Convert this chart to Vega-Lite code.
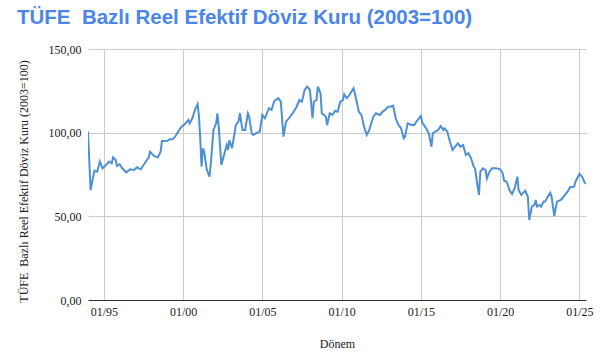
{
  "$schema": "https://vega.github.io/schema/vega-lite/v6.json",
  "width": 498,
  "height": 251,
  "autosize": "none",
  "padding": {"left": 88, "top": 49, "right": 16, "bottom": 63},
  "background": "white",
  "title": {
    "text": "TÜFE\u00a0 Bazlı Reel Efektif Döviz Kuru (2003=100)",
    "anchor": "start",
    "frame": "group",
    "dx": -71,
    "offset": 15,
    "font": "Liberation Sans",
    "fontSize": 20.5,
    "fontWeight": "bold",
    "color": "#4a86e8"
  },
  "config": {"view": {"stroke": null}},
  "data": {
    "values": [
      {"d": "1994-01", "v": 100.6}, {"d": "1994-03", "v": 65.7}, {"d": "1994-05", "v": 73.7}, {"d": "1994-06", "v": 77.3},
      {"d": "1994-08", "v": 76.7}, {"d": "1994-10", "v": 82.7}, {"d": "1994-12", "v": 78.7}, {"d": "1995-02", "v": 80.1},
      {"d": "1995-05", "v": 82.7}, {"d": "1995-07", "v": 81.7}, {"d": "1995-08", "v": 85.3}, {"d": "1995-10", "v": 83.7},
      {"d": "1995-11", "v": 80.1}, {"d": "1996-01", "v": 81.1}, {"d": "1996-03", "v": 78.7}, {"d": "1996-06", "v": 76.3},
      {"d": "1996-09", "v": 78.1}, {"d": "1996-12", "v": 77.7}, {"d": "1997-02", "v": 79.3}, {"d": "1997-05", "v": 78.1},
      {"d": "1997-08", "v": 81.7}, {"d": "1997-11", "v": 85.3}, {"d": "1997-12", "v": 88.6}, {"d": "1998-03", "v": 86.1},
      {"d": "1998-06", "v": 85.3}, {"d": "1998-08", "v": 88.6}, {"d": "1998-09", "v": 95.0}, {"d": "1999-01", "v": 95.1},
      {"d": "1999-03", "v": 96.0}, {"d": "1999-05", "v": 96.0}, {"d": "1999-07", "v": 97.6}, {"d": "1999-10", "v": 101.6},
      {"d": "1999-12", "v": 103.6}, {"d": "2000-03", "v": 105.6}, {"d": "2000-05", "v": 107.6}, {"d": "2000-06", "v": 105.6},
      {"d": "2000-08", "v": 108.6}, {"d": "2000-10", "v": 113.6}, {"d": "2000-12", "v": 117.0}, {"d": "2001-01", "v": 109.6},
      {"d": "2001-02", "v": 95.6}, {"d": "2001-03", "v": 79.7}, {"d": "2001-04", "v": 90.7}, {"d": "2001-05", "v": 88.6},
      {"d": "2001-07", "v": 77.7}, {"d": "2001-09", "v": 73.7}, {"d": "2001-10", "v": 81.7}, {"d": "2001-12", "v": 101.6},
      {"d": "2002-02", "v": 105.6}, {"d": "2002-03", "v": 111.6}, {"d": "2002-04", "v": 103.6}, {"d": "2002-06", "v": 80.7},
      {"d": "2002-08", "v": 86.7}, {"d": "2002-10", "v": 92.6}, {"d": "2002-11", "v": 89.7}, {"d": "2002-12", "v": 95.6},
      {"d": "2003-02", "v": 90.7}, {"d": "2003-05", "v": 104.6}, {"d": "2003-07", "v": 106.6}, {"d": "2003-08", "v": 111.6},
      {"d": "2003-10", "v": 101.6}, {"d": "2003-12", "v": 101.6}, {"d": "2004-02", "v": 111.6}, {"d": "2004-03", "v": 109.6},
      {"d": "2004-05", "v": 99.6}, {"d": "2004-06", "v": 98.6}, {"d": "2004-08", "v": 99.6}, {"d": "2004-11", "v": 100.6},
      {"d": "2005-01", "v": 110.6}, {"d": "2005-03", "v": 108.6}, {"d": "2005-06", "v": 114.6}, {"d": "2005-08", "v": 113.6},
      {"d": "2005-10", "v": 118.9}, {"d": "2006-01", "v": 120.6}, {"d": "2006-03", "v": 118.5}, {"d": "2006-05", "v": 97.6},
      {"d": "2006-07", "v": 106.6}, {"d": "2006-09", "v": 108.6}, {"d": "2006-12", "v": 111.6}, {"d": "2007-03", "v": 115.5},
      {"d": "2007-05", "v": 119.5}, {"d": "2007-07", "v": 118.5}, {"d": "2007-09", "v": 125.5}, {"d": "2007-11", "v": 127.5},
      {"d": "2008-01", "v": 125.5}, {"d": "2008-03", "v": 108.6}, {"d": "2008-04", "v": 118.5}, {"d": "2008-06", "v": 119.5},
      {"d": "2008-07", "v": 127.5}, {"d": "2008-09", "v": 123.5}, {"d": "2008-10", "v": 111.6}, {"d": "2009-01", "v": 109.6},
      {"d": "2009-02", "v": 104.6}, {"d": "2009-04", "v": 111.6}, {"d": "2009-06", "v": 110.6}, {"d": "2009-08", "v": 113.0},
      {"d": "2009-10", "v": 112.5}, {"d": "2009-12", "v": 118.5}, {"d": "2010-02", "v": 119.5}, {"d": "2010-03", "v": 122.9},
      {"d": "2010-05", "v": 120.6}, {"d": "2010-07", "v": 122.5}, {"d": "2010-10", "v": 126.5}, {"d": "2010-11", "v": 123.5},
      {"d": "2011-02", "v": 112.5}, {"d": "2011-04", "v": 110.6}, {"d": "2011-06", "v": 103.6}, {"d": "2011-08", "v": 98.6},
      {"d": "2011-10", "v": 101.6}, {"d": "2011-11", "v": 104.6}, {"d": "2012-01", "v": 109.6}, {"d": "2012-03", "v": 111.6},
      {"d": "2012-06", "v": 110.6}, {"d": "2012-08", "v": 112.5}, {"d": "2012-10", "v": 113.6}, {"d": "2012-12", "v": 115.5},
      {"d": "2013-02", "v": 115.5}, {"d": "2013-04", "v": 116.1}, {"d": "2013-06", "v": 108.6}, {"d": "2013-08", "v": 104.6},
      {"d": "2013-10", "v": 102.6}, {"d": "2013-12", "v": 96.6}, {"d": "2014-01", "v": 97.6}, {"d": "2014-03", "v": 105.6},
      {"d": "2014-06", "v": 104.6}, {"d": "2014-08", "v": 104.6}, {"d": "2014-10", "v": 107.0}, {"d": "2015-01", "v": 110.0},
      {"d": "2015-02", "v": 106.0}, {"d": "2015-05", "v": 102.6}, {"d": "2015-07", "v": 99.6}, {"d": "2015-09", "v": 91.6},
      {"d": "2015-10", "v": 99.6}, {"d": "2015-12", "v": 100.6}, {"d": "2016-02", "v": 101.6}, {"d": "2016-04", "v": 104.0},
      {"d": "2016-06", "v": 101.6}, {"d": "2016-07", "v": 102.6}, {"d": "2016-09", "v": 100.6}, {"d": "2016-11", "v": 94.6},
      {"d": "2017-01", "v": 89.7}, {"d": "2017-03", "v": 91.6}, {"d": "2017-05", "v": 93.6}, {"d": "2017-07", "v": 91.6},
      {"d": "2017-09", "v": 92.6}, {"d": "2017-11", "v": 86.7}, {"d": "2018-01", "v": 87.7}, {"d": "2018-03", "v": 84.7},
      {"d": "2018-05", "v": 79.7}, {"d": "2018-06", "v": 78.7}, {"d": "2018-08", "v": 67.7}, {"d": "2018-09", "v": 62.8},
      {"d": "2018-10", "v": 76.7}, {"d": "2018-12", "v": 78.7}, {"d": "2019-02", "v": 77.7}, {"d": "2019-03", "v": 72.7},
      {"d": "2019-05", "v": 76.7}, {"d": "2019-07", "v": 78.7}, {"d": "2019-10", "v": 78.7}, {"d": "2020-01", "v": 78.1},
      {"d": "2020-03", "v": 75.7}, {"d": "2020-04", "v": 71.3}, {"d": "2020-06", "v": 70.7}, {"d": "2020-08", "v": 65.7},
      {"d": "2020-10", "v": 63.4}, {"d": "2020-12", "v": 66.8}, {"d": "2021-02", "v": 73.7}, {"d": "2021-03", "v": 65.7},
      {"d": "2021-05", "v": 62.8}, {"d": "2021-08", "v": 65.3}, {"d": "2021-10", "v": 61.7}, {"d": "2021-11", "v": 47.8},
      {"d": "2022-01", "v": 55.8}, {"d": "2022-03", "v": 56.8}, {"d": "2022-04", "v": 59.8}, {"d": "2022-05", "v": 55.8},
      {"d": "2022-07", "v": 56.8}, {"d": "2022-08", "v": 55.8}, {"d": "2022-10", "v": 58.8}, {"d": "2022-11", "v": 58.8},
      {"d": "2023-01", "v": 61.7}, {"d": "2023-03", "v": 64.1}, {"d": "2023-04", "v": 61.7}, {"d": "2023-06", "v": 50.2},
      {"d": "2023-08", "v": 58.8}, {"d": "2023-11", "v": 59.8}, {"d": "2024-01", "v": 61.7}, {"d": "2024-04", "v": 64.7},
      {"d": "2024-06", "v": 67.4}, {"d": "2024-09", "v": 67.7}, {"d": "2024-10", "v": 70.7}, {"d": "2025-01", "v": 75.3},
      {"d": "2025-03", "v": 73.7}, {"d": "2025-05", "v": 70.1}, {"d": "2025-06", "v": 69.5}
    ]
  },
  "mark": {"type": "line", "color": "#4d90d6", "strokeWidth": 2, "clip": true},
  "encoding": {
    "x": {
      "field": "d",
      "type": "temporal",
      "scale": {"nice": false},
      "axis": {
        "title": "Dönem",
        "format": "%m/%y",
        "values": [
          {"year": 1995, "month": 1, "date": 1}, {"year": 2000, "month": 1, "date": 1},
          {"year": 2005, "month": 1, "date": 1}, {"year": 2010, "month": 1, "date": 1},
          {"year": 2015, "month": 1, "date": 1}, {"year": 2020, "month": 1, "date": 1},
          {"year": 2025, "month": 1, "date": 1}
        ],
        "grid": true,
        "gridColor": "#cccccc",
        "ticks": false,
        "domain": true,
        "domainColor": "#333333",
        "labelFont": "Liberation Serif",
        "labelFontSize": 12,
        "labelColor": "#222222",
        "labelPadding": 6,
        "labelFlush": false,
        "titleFont": "Liberation Serif",
        "titleFontSize": 12,
        "titleFontWeight": "normal",
        "titleColor": "#222222",
        "titlePadding": 21
      }
    },
    "y": {
      "field": "v",
      "type": "quantitative",
      "scale": {"domain": [0, 150], "nice": false},
      "axis": {
        "title": "TÜFE\u00a0 Bazlı Reel Efektif Döviz Kuru (2003=100)",
        "values": [0, 50, 100, 150],
        "labelExpr": "replace(format(datum.value, '.2f'), '.', ',')",
        "grid": true,
        "gridColor": "#cccccc",
        "ticks": false,
        "domain": false,
        "labelFont": "Liberation Serif",
        "labelFontSize": 12,
        "labelColor": "#222222",
        "labelPadding": 7,
        "titleFont": "Liberation Serif",
        "titleFontSize": 12,
        "titleFontWeight": "normal",
        "titleColor": "#222222",
        "titleX": -65,
        "titleY": 132,
        "titleAlign": "center",
        "titleBaseline": "middle",
        "titleAngle": -90
      }
    }
  }
}
